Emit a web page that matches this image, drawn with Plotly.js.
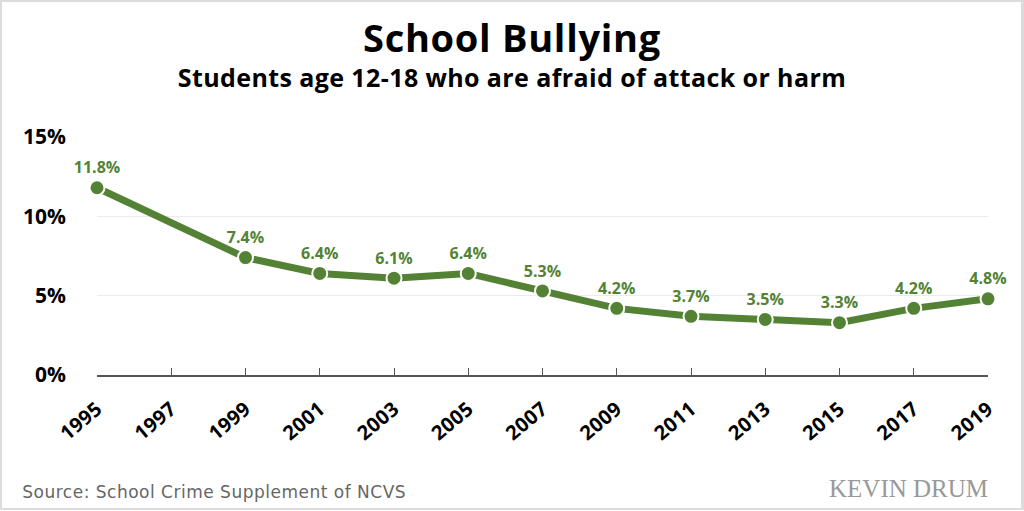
<!DOCTYPE html>
<html>
<head>
<meta charset="utf-8">
<script src="https://cdn.plot.ly/plotly-3.0.1.min.js"></script>
<style>
html,body{margin:0;padding:0;background:#fff;}
#wrap{position:relative;width:1024px;height:511px;}
#chart{width:1024px;height:511px;}
#frame{position:absolute;left:0;top:0;width:1019px;height:506px;border:2px solid #dcdcdc;border-right-width:3px;pointer-events:none;}
#chart .gtitle{letter-spacing:0.7px;}
#chart .annotation[data-index="0"] text{letter-spacing:0.4px;}
#chart .annotation[data-index="1"] text{letter-spacing:0.5px;}
#chart .xtick text{letter-spacing:0.3px;}
</style>
</head>
<body>
<div id="wrap"><div id="chart"></div><div id="frame"></div></div>
<script>
const years = [1995, 1999, 2001, 2003, 2005, 2007, 2009, 2011, 2013, 2015, 2017, 2019];
const values = [11.8, 7.4, 6.4, 6.1, 6.4, 5.3, 4.2, 3.7, 3.5, 3.3, 4.2, 4.8];
const xTicks = [1995, 1997, 1999, 2001, 2003, 2005, 2007, 2009, 2011, 2013, 2015, 2017, 2019];
const yTicks = [0, 5, 10, 15];
const yTickLabels = ['0%', '5%', '10%', '15%'];
const titleText = 'School Bullying';
const subtitleText = 'Students age 12-18 who are afraid of attack or harm';
const sourceText = 'Source: School Crime Supplement of NCVS';

const green = '#548235';
const mainFont = "'Open Sans', sans-serif";
const trace = {
  x: years,
  y: values,
  mode: 'lines+markers+text',
  text: values.map(v => v.toFixed(1) + '%'),
  textposition: 'top center',
  textfont: {family: mainFont, size: 16, color: green, weight: 700},
  line: {color: green, width: 7},
  marker: {color: green, size: 15, line: {color: '#fff', width: 2}},
  cliponaxis: false,
  hoverinfo: 'skip'
};

const layout = {
  width: 1024, height: 511,
  margin: {l: 97, r: 36, t: 137, b: 136},
  paper_bgcolor: '#fff', plot_bgcolor: '#fff',
  showlegend: false,
  title: {text: titleText, x: 0.5, xanchor: 'center', y: 0.925, yanchor: 'middle', yref: 'container',
          font: {family: mainFont, size: 38, color: '#000', weight: 700}},
  xaxis: {
    range: [1995, 2019], tickvals: xTicks, ticktext: xTicks.map(String),
    tickangle: -40, ticks: 'inside', ticklen: 7, tickcolor: '#555', tickwidth: 1,
    showline: true, linecolor: '#555', linewidth: 1.5, showgrid: false, zeroline: false,
    ticklabelstandoff: 13,
    tickfont: {family: mainFont, size: 20, color: '#000', weight: 700},
    fixedrange: true
  },
  yaxis: {
    range: [0, 15], tickvals: yTicks, ticktext: yTickLabels,
    showgrid: true, gridcolor: '#ebebeb', gridwidth: 1, zeroline: false, showline: false,
    ticks: '', ticklabelstandoff: 30,
    tickfont: {family: mainFont, size: 21, color: '#000', weight: 700},
    fixedrange: true
  },
  annotations: [
    {text: subtitleText, xref: 'paper', yref: 'paper', x: (512-97)/891, xanchor: 'center',
     y: 1 + (137-77)/238, yanchor: 'middle', showarrow: false,
     font: {family: mainFont, size: 25, color: '#000', weight: 700}},
    {text: sourceText, xref: 'paper', yref: 'paper', x: -(97-30)/891, xanchor: 'left',
     y: -(492-375)/238, yanchor: 'middle', showarrow: false,
     font: {family: "'DejaVu Sans', Verdana, sans-serif", size: 17, color: '#666'}},
    {text: 'KEVIN DRUM', xref: 'paper', yref: 'paper', x: (990-97)/891, xanchor: 'right',
     y: -(488-375)/238, yanchor: 'middle', showarrow: false,
     font: {family: "'Liberation Serif', serif", size: 25, color: '#999'}}
  ]
};

Plotly.newPlot('chart', [trace], layout, {staticPlot: true, displayModeBar: false});
</script>
</body>
</html>
